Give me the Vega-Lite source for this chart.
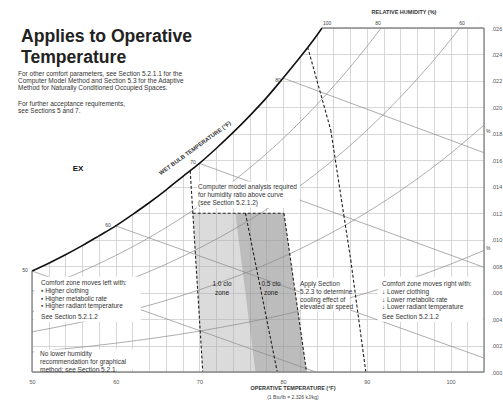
{
  "$schema": "https://vega.github.io/schema/vega-lite/v6.json",
  "width": 452,
  "height": 344,
  "autosize": {"type": "none"},
  "padding": {"left": 32, "top": 28, "right": 19, "bottom": 29},
  "background": "white",
  "config": {"view": {"stroke": null}, "font": "Liberation Sans"},
  "datasets": {
    "sat": [
      {"x": 50, "y": 0.007632}, {"x": 52, "y": 0.008226}, {"x": 54, "y": 0.008862},
      {"x": 56, "y": 0.009554}, {"x": 58, "y": 0.010293}, {"x": 60, "y": 0.011044},
      {"x": 62, "y": 0.011901}, {"x": 64, "y": 0.012792}, {"x": 66, "y": 0.013751},
      {"x": 68, "y": 0.014774}, {"x": 70, "y": 0.015768}, {"x": 72, "y": 0.016891},
      {"x": 74, "y": 0.018088}, {"x": 76, "y": 0.019362}, {"x": 78, "y": 0.020719},
      {"x": 80, "y": 0.022218}, {"x": 82, "y": 0.023767}, {"x": 84, "y": 0.025418},
      {"x": 84.65, "y": 0.026}
    ],
    "rh": [
      {"g": "80", "x": 50, "y": 0.006091}, {"g": "80", "x": 55, "y": 0.007336}, {"g": "80", "x": 60, "y": 0.008804},
      {"g": "80", "x": 65, "y": 0.010529}, {"g": "80", "x": 70, "y": 0.012551}, {"g": "80", "x": 75, "y": 0.014903},
      {"g": "80", "x": 80, "y": 0.017648}, {"g": "80", "x": 85, "y": 0.020871}, {"g": "80", "x": 90, "y": 0.024597},
      {"g": "80", "x": 91.7, "y": 0.026},
      {"g": "60", "x": 50, "y": 0.004557}, {"g": "60", "x": 60, "y": 0.00658}, {"g": "60", "x": 70, "y": 0.009366},
      {"g": "60", "x": 80, "y": 0.013143}, {"g": "60", "x": 90, "y": 0.018267}, {"g": "60", "x": 95, "y": 0.021442},
      {"g": "60", "x": 100, "y": 0.025107}, {"g": "60", "x": 101.1, "y": 0.026},
      {"g": "40", "x": 50, "y": 0.00303}, {"g": "40", "x": 60, "y": 0.004371}, {"g": "40", "x": 70, "y": 0.006213},
      {"g": "40", "x": 80, "y": 0.008701}, {"g": "40", "x": 90, "y": 0.01206}, {"g": "40", "x": 100, "y": 0.016515},
      {"g": "40", "x": 104, "y": 0.018658},
      {"g": "20", "x": 50, "y": 0.001512}, {"g": "20", "x": 60, "y": 0.002177}, {"g": "20", "x": 70, "y": 0.003091},
      {"g": "20", "x": 80, "y": 0.00432}, {"g": "20", "x": 90, "y": 0.005972}, {"g": "20", "x": 100, "y": 0.00815},
      {"g": "20", "x": 104, "y": 0.009191}
    ],
    "wetbulb": [
      {"x": 50, "y": 0.007632, "x2": 83.9, "y2": 0},
      {"x": 60, "y": 0.011044, "x2": 104, "y2": 0.001055},
      {"x": 70, "y": 0.015768, "x2": 104, "y2": 0.00791},
      {"x": 80, "y": 0.022218, "x2": 104, "y2": 0.016577}
    ],
    "dashed": [
      {"x": 68.9, "y": 0.0152, "x2": 70.4, "y2": 0},
      {"x": 69.2, "y": 0.012, "x2": 80.1, "y2": 0.012},
      {"x": 75.5, "y": 0.012, "x2": 79.3, "y2": 0},
      {"x": 80.1, "y": 0.012, "x2": 82.8, "y2": 0},
      {"x": 82.93, "y": 0.02456, "x2": 85.69, "y2": 0.01829},
      {"x": 85.69, "y": 0.01829, "x2": 87.25, "y2": 0.01187},
      {"x": 87.25, "y": 0.01187, "x2": 88.08, "y2": 0.00847},
      {"x": 88.08, "y": 0.00847, "x2": 89.88, "y2": 0}
    ],
    "frame": [
      {"x": 50, "y": 0, "x2": 104, "y2": 0},
      {"x": 104, "y": 0, "x2": 104, "y2": 0.026},
      {"x": 84.65, "y": 0.026, "x2": 104, "y2": 0.026},
      {"x": 50, "y": 0, "x2": 50, "y2": 0.007632}
    ],
    "zone10": [
      {"x": 70.4, "x2": 82.8, "y": 0},
      {"x": 69.2, "x2": 80.1, "y": 0.012}
    ],
    "zone05": [
      {"x": 76.7, "x2": 82.8, "y": 0},
      {"x": 74.3, "x2": 80.1, "y": 0.012}
    ],
    "boxes": [
      {"x": 50.25, "x2": 63.0, "y": 0.0038, "y2": 0.0072},
      {"x": 91.3, "x2": 103.85, "y": 0.0038, "y2": 0.0072},
      {"x": 82.1, "x2": 88.0, "y": 0.0046, "y2": 0.0071},
      {"x": 69.7, "x2": 82.0, "y": 0.0124, "y2": 0.0144},
      {"x": 50.25, "x2": 62.5, "y": 0.0002, "y2": 0.0017}
    ]
  },
  "encoding": {
    "x": {"field": "x", "type": "quantitative", "title": null,
      "scale": {"domain": [50, 104], "nice": false, "zero": false},
      "axis": {"orient": "bottom", "title": null,
        "values": [50,52,54,56,58,60,62,64,66,68,70,72,74,76,78,80,82,84,86,88,90,92,94,96,98,100,102,104],
        "grid": true, "gridColor": "#cdcdcd", "gridWidth": 0.8, "ticks": false, "domain": false,
        "labelExpr": "datum.value % 10 === 0 ? '' + datum.value : ''",
        "labelOverlap": false, "labelFlush": false, "labelFontSize": 5.5, "labelColor": "#555", "labelPadding": 7}},
    "y": {"field": "y", "type": "quantitative", "title": null,
      "scale": {"domain": [0, 0.026], "nice": false, "zero": false},
      "axis": {"orient": "right", "title": null,
        "values": [0,0.002,0.004,0.006,0.008,0.01,0.012,0.014,0.016,0.018,0.02,0.022,0.024,0.026],
        "grid": true, "gridColor": "#cdcdcd", "gridWidth": 0.8, "ticks": false, "domain": false,
        "labelExpr": "replace(format(datum.value, '.3f'), '0.', '.')",
        "labelOverlap": false, "labelFlush": false, "labelFontSize": 5.5, "labelColor": "#555", "labelPadding": 7}}
  },
  "layer": [
    {
      "data": {"name": "sat"},
      "mark": {"type": "area", "fill": "white", "interpolate": "monotone"},
      "encoding": {"y2": {"datum": 0.026}}
    },
    {
      "data": {"name": "zone10"},
      "mark": {"type": "area", "orient": "horizontal", "fill": "#aaaaaa", "fillOpacity": 0.42},
      "encoding": {"x2": {"field": "x2"}}
    },
    {
      "data": {"name": "zone05"},
      "mark": {"type": "area", "orient": "horizontal", "fill": "#888888", "fillOpacity": 0.38},
      "encoding": {"x2": {"field": "x2"}}
    },
    {
      "data": {"name": "rh"},
      "mark": {"type": "line", "stroke": "#8a8a8a", "strokeWidth": 0.7, "interpolate": "monotone"},
      "encoding": {"detail": {"field": "g"}}
    },
    {
      "data": {"name": "wetbulb"},
      "mark": {"type": "rule", "stroke": "#8a8a8a", "strokeWidth": 0.7},
      "encoding": {"x2": {"field": "x2"}, "y2": {"field": "y2"}}
    },
    {
      "data": {"name": "boxes"},
      "mark": {"type": "rect", "fill": "white"},
      "encoding": {"x2": {"field": "x2"}, "y2": {"field": "y2"}}
    },
    {
      "data": {"name": "sat"},
      "mark": {"type": "line", "stroke": "#111", "strokeWidth": 1.6, "interpolate": "monotone"},
      "encoding": {}
    },
    {
      "data": {"name": "dashed"},
      "mark": {"type": "rule", "stroke": "#222", "strokeWidth": 1.1, "strokeDash": [3, 2]},
      "encoding": {"x2": {"field": "x2"}, "y2": {"field": "y2"}}
    },
    {
      "data": {"name": "frame"},
      "mark": {"type": "rule", "stroke": "#888", "strokeWidth": 1.4},
      "encoding": {"x2": {"field": "x2"}, "y2": {"field": "y2"}}
    },
    {
      "data": {"values": [{"x": 48.68, "y": 0.02494, "t": "Applies to Operative\nTemperature"}]},
      "mark": {"type": "text", "align": "left", "baseline": "alphabetic", "fontSize": 17.6, "fontWeight": "bold", "color": "#222", "lineBreak": "\n", "lineHeight": 21},
      "encoding": {"text": {"field": "t"}}
    },
    {
      "data": {"values": [
        {"x": 48.33, "y": 0.02237, "t": "For other comfort parameters, see Section 5.2.1.1 for the\nComputer Model Method and Section 5.3 for the Adaptive\nMethod for Naturally Conditioned Occupied Spaces."},
        {"x": 48.33, "y": 0.0201, "t": "For further acceptance requirements,\nsee Sections 5 and 7."}
      ]},
      "mark": {"type": "text", "align": "left", "baseline": "alphabetic", "fontSize": 6.5, "color": "#333", "lineBreak": "\n", "lineHeight": 6.8},
      "encoding": {"text": {"field": "t"}}
    },
    {
      "data": {"values": [
        {"x": 51.08, "y": 0.00658, "t": "Comfort zone moves left with:\n\u25aa Higher clothing\n\u25aa Higher metabolic rate\n\u25aa Higher radiant temperature"},
        {"x": 51.08, "y": 0.00401, "t": "See Section 5.2.1.2"},
        {"x": 50.96, "y": 0.00121, "t": "No lower humidity\nrecommendation for graphical\nmethod; see Section 5.2.1"},
        {"x": 82.02, "y": 0.0065, "t": "Apply Section\n5.2.3 to determine\ncooling effect of\nelevated air speed"},
        {"x": 91.82, "y": 0.0065, "t": "Comfort zone moves right with:\n\u2193 Lower clothing\n\u2193 Lower metabolic rate\n\u2193 Lower radiant temperature"},
        {"x": 91.82, "y": 0.00401, "t": "See Section 5.2.1.2"},
        {"x": 69.83, "y": 0.01383, "t": "Computer model analysis required\nfor humidity ratio above curve\n(see Section 5.2.1.2)"}
      ]},
      "mark": {"type": "text", "align": "left", "baseline": "alphabetic", "fontSize": 6.5, "color": "#333", "lineBreak": "\n", "lineHeight": 7.8},
      "encoding": {"text": {"field": "t"}}
    },
    {
      "data": {"values": [
        {"x": 72.7, "y": 0.0065, "t": "1.0 clo\nzone"},
        {"x": 78.55, "y": 0.0065, "t": "0.5 clo\nzone"}
      ]},
      "mark": {"type": "text", "align": "center", "baseline": "alphabetic", "fontSize": 6.5, "color": "#222", "lineBreak": "\n", "lineHeight": 8.5},
      "encoding": {"text": {"field": "t"}}
    },
    {
      "data": {"values": [{"x": 55.5, "y": 0.01534, "t": "EX"}]},
      "mark": {"type": "text", "align": "center", "baseline": "middle", "fontSize": 8, "fontWeight": "bold", "color": "#111"},
      "encoding": {"text": {"field": "t"}}
    },
    {
      "data": {"values": [
        {"x": 49.16, "y": 0.00771, "t": "50"},
        {"x": 59.08, "y": 0.01111, "t": "60"},
        {"x": 69.24, "y": 0.01587, "t": "70"},
        {"x": 79.39, "y": 0.02207, "t": "80"},
        {"x": 85.25, "y": 0.02638, "t": "100"},
        {"x": 91.34, "y": 0.02638, "t": "80"},
        {"x": 101.38, "y": 0.02638, "t": "60"},
        {"x": 104.5, "y": 0.0182, "t": "%"},
        {"x": 104.5, "y": 0.0094, "t": "%"}
      ]},
      "mark": {"type": "text", "align": "center", "baseline": "middle", "fontSize": 5, "color": "#444"},
      "encoding": {"text": {"field": "t"}}
    },
    {
      "data": {"values": [
        {"x": 94.44, "y": 0.02706, "t": "RELATIVE HUMIDITY (%)"},
        {"x": 81.18, "y": -0.00136, "t": "OPERATIVE TEMPERATURE (\u00b0F)"}
      ]},
      "mark": {"type": "text", "align": "center", "baseline": "alphabetic", "fontSize": 5.5, "fontWeight": "bold", "color": "#333"},
      "encoding": {"text": {"field": "t"}}
    },
    {
      "data": {"values": [{"x": 81.18, "y": -0.00204, "t": "(1 Btu/lb = 2.326 kJ/kg)"}]},
      "mark": {"type": "text", "align": "center", "baseline": "alphabetic", "fontSize": 5, "color": "#444"},
      "encoding": {"text": {"field": "t"}}
    },
    {
      "data": {"values": [{"x": 69.47, "y": 0.01693, "t": "WET BULB TEMPERATURE (\u00b0F)"}]},
      "mark": {"type": "text", "align": "center", "baseline": "middle", "fontSize": 5.8, "fontWeight": "bold", "color": "#333", "angle": -36},
      "encoding": {"text": {"field": "t"}}
    }
  ]
}
